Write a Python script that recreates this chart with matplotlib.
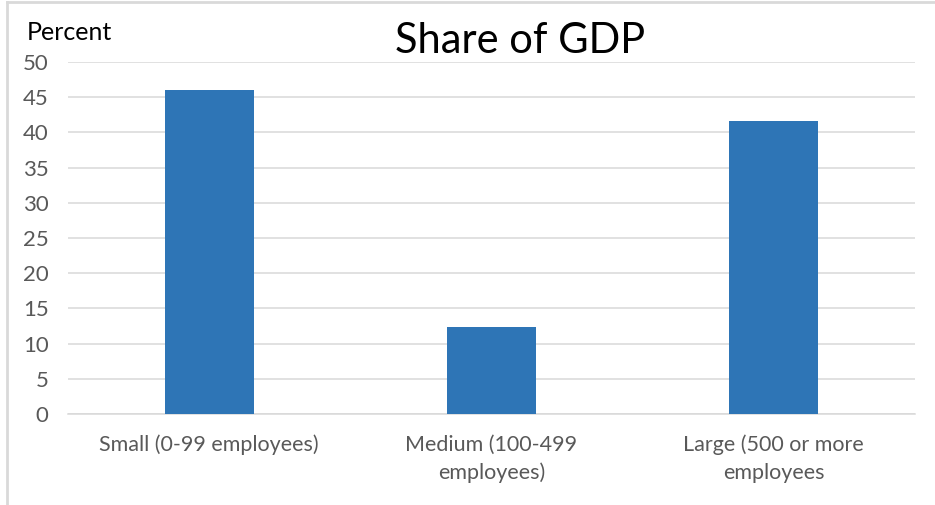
import matplotlib
matplotlib.use("Agg")
import matplotlib.pyplot as plt
from matplotlib.lines import Line2D

categories = ["Small (0-99 employees)", "Medium (100-499\nemployees)", "Large (500 or more\nemployees"]
share_of_gdp = [46.0, 12.4, 41.6]
y_ticks = [0, 5, 10, 15, 20, 25, 30, 35, 40, 45, 50]

plt.rcParams["font.family"] = ["Lato", "DejaVu Sans"]

W, H = 935, 505
fig = plt.figure(figsize=(W / 100, H / 100), dpi=100)
ax = fig.add_axes([68 / W, 1 - 414 / H, (915 - 68) / W, (414 - 62) / H])

x = range(len(categories))
ax.bar(x, share_of_gdp, width=0.315, color="#2E75B6", zorder=3)

ax.set_xlim(-0.5, len(categories) - 0.5)
ax.set_ylim(0, 50)
ax.set_yticks(y_ticks)
ax.set_xticks(list(x))
ax.set_xticklabels(categories, fontsize=15.5, color="#595959", linespacing=1.45)
ax.tick_params(axis="y", length=0, pad=14, labelsize=16, labelcolor="#595959")
ax.tick_params(axis="x", length=0, pad=15)

ax.grid(axis="y", color="#d9d9d9", linewidth=1.1, zorder=0)
for side in ["top", "right", "left"]:
    ax.spines[side].set_visible(False)
ax.spines["bottom"].set_color("#d9d9d9")
ax.spines["bottom"].set_linewidth(1.1)

fig.text(520 / W, 1 - 41 / H, "Share of GDP", fontsize=30, color="black",
         ha="center", va="center")
fig.text(27 / W, 1 - 32 / H, "Percent", fontsize=18, color="black",
         ha="left", va="center")

# light outer frame along the top and left edges
fig.add_artist(Line2D([7 / W, 1], [1 - 1.5 / H, 1 - 1.5 / H], color="#d9d9d9", lw=2,
                      transform=fig.transFigure))
fig.add_artist(Line2D([7 / W, 7 / W], [0, 1 - 1.5 / H], color="#d9d9d9", lw=2,
                      transform=fig.transFigure))

fig.savefig("out.png", dpi=100, facecolor="white")
